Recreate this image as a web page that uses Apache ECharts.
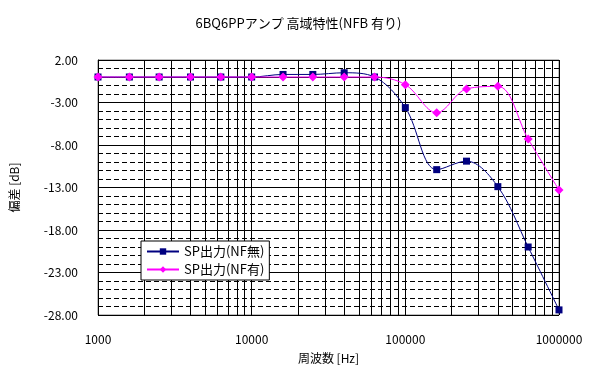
<!DOCTYPE html>
<html>
<head>
<meta charset="utf-8">
<script src="https://cdn.jsdelivr.net/npm/echarts@6/dist/echarts.min.js"></script>
<style>
  html, body { margin: 0; padding: 0; background: #fff; }
  #chart { width: 597px; height: 376px; }
</style>
</head>
<body>
<div id="chart"></div>
<script>
// 周波数 (Hz)
const freqs = [1000, 1600, 2500, 4000, 6300, 10000, 16000, 25000, 40000, 63000,
  100000, 160000, 250000, 400000, 630000, 1000000];
// SP出力 NF無 / NF有 (dB)
const nfOff = [0, 0, 0, 0, 0, 0, 0.3, 0.3, 0.5, 0, -3.6, -10.9, -9.9, -12.9, -20.0, -27.4];
const nfOn = [0, 0, 0, 0, 0, 0, 0, 0, 0, 0, -0.9, -4.2, -1.4, -1.1, -7.3, -13.3];

// 対数目盛の補助線 (2..9 x 10^n)
const minorFreqs = [];
[1000, 10000, 100000].forEach((d) => {
  for (let k = 2; k <= 9; k++) minorFreqs.push(d * k);
});

const font = "'Noto Sans CJK JP', sans-serif";

const chart = echarts.init(document.getElementById("chart"));
chart.setOption({
  backgroundColor: "#fff",
  animation: false,
  title: {
    text: "6BQ6PPアンプ 高域特性(NFB 有り)",
    left: "center",
    top: 12,
    textStyle: { fontFamily: font, fontSize: 13, fontWeight: "normal", color: "#000" },
  },
  grid: {
    left: 97, right: 38, top: 60, bottom: 61,
    show: true, borderColor: "#808080", borderWidth: 1,
  },
  legend: {
    orient: "vertical",
    left: 141,
    top: 241,
    itemGap: 5,
    itemWidth: 32,
    itemHeight: 8,
    padding: [4, 5, 4, 5],
    backgroundColor: "#fff",
    borderColor: "#000",
    borderWidth: 1,
    borderRadius: 0,
    textStyle: { fontFamily: font, fontSize: 13, color: "#000" },
    data: ["SP出力(NF無)", "SP出力(NF有)"],
  },
  xAxis: {
    type: "log",
    logBase: 10,
    min: 1000,
    max: 1000000,
    name: "周波数 [Hz]",
    nameLocation: "middle",
    nameGap: 37,
    nameTextStyle: { fontFamily: font, fontSize: 12, color: "#000" },
    axisLine: { lineStyle: { color: "#000" } },
    axisTick: { show: false },
    axisLabel: {
      fontFamily: font, fontSize: 12, color: "#000", margin: 18,
      formatter: (v) => String(Math.round(v)),
    },
    splitLine: { show: true, lineStyle: { color: "#000", width: 1 } },
  },
  yAxis: {
    type: "value",
    min: -28,
    max: 2,
    interval: 5,
    name: "偏差 [dB]",
    nameLocation: "middle",
    nameGap: 78,
    nameTextStyle: { fontFamily: font, fontSize: 12, color: "#000" },
    axisLine: { show: true, lineStyle: { color: "#000" } },
    axisTick: { show: false },
    axisLabel: {
      fontFamily: font, fontSize: 12, color: "#000", margin: 20,
      formatter: (v) => v.toFixed(2),
    },
    splitLine: { show: true, lineStyle: { color: "#000", width: 1 } },
    minorTick: { show: false, splitNumber: 5 },
    minorSplitLine: { show: true, lineStyle: { color: "#000", width: 1, type: [5, 3] } },
  },
  series: [
    {
      name: "SP出力(NF無)",
      type: "line",
      data: freqs.map((f, i) => [f, nfOff[i]]),
      smooth: 0.35,
      symbol: "rect",
      symbolSize: 7,
      color: "#000080",
      lineStyle: { width: 1, color: "#000080" },
      itemStyle: { color: "#000080" },
      z: 3,
      markLine: {
        silent: true,
        symbol: "none",
        label: { show: false },
        lineStyle: { color: "#000", width: 1, type: "solid" },
        data: minorFreqs.map((f) => ({ xAxis: f })),
        z: 1,
      },
    },
    {
      name: "SP出力(NF有)",
      type: "line",
      data: freqs.map((f, i) => [f, nfOn[i]]),
      smooth: 0.35,
      symbol: "diamond",
      symbolSize: 9,
      color: "#ff00ff",
      lineStyle: { width: 1, color: "#ff00ff" },
      itemStyle: { color: "#ff00ff" },
      z: 4,
    },
  ],
});
</script>
</body>
</html>
